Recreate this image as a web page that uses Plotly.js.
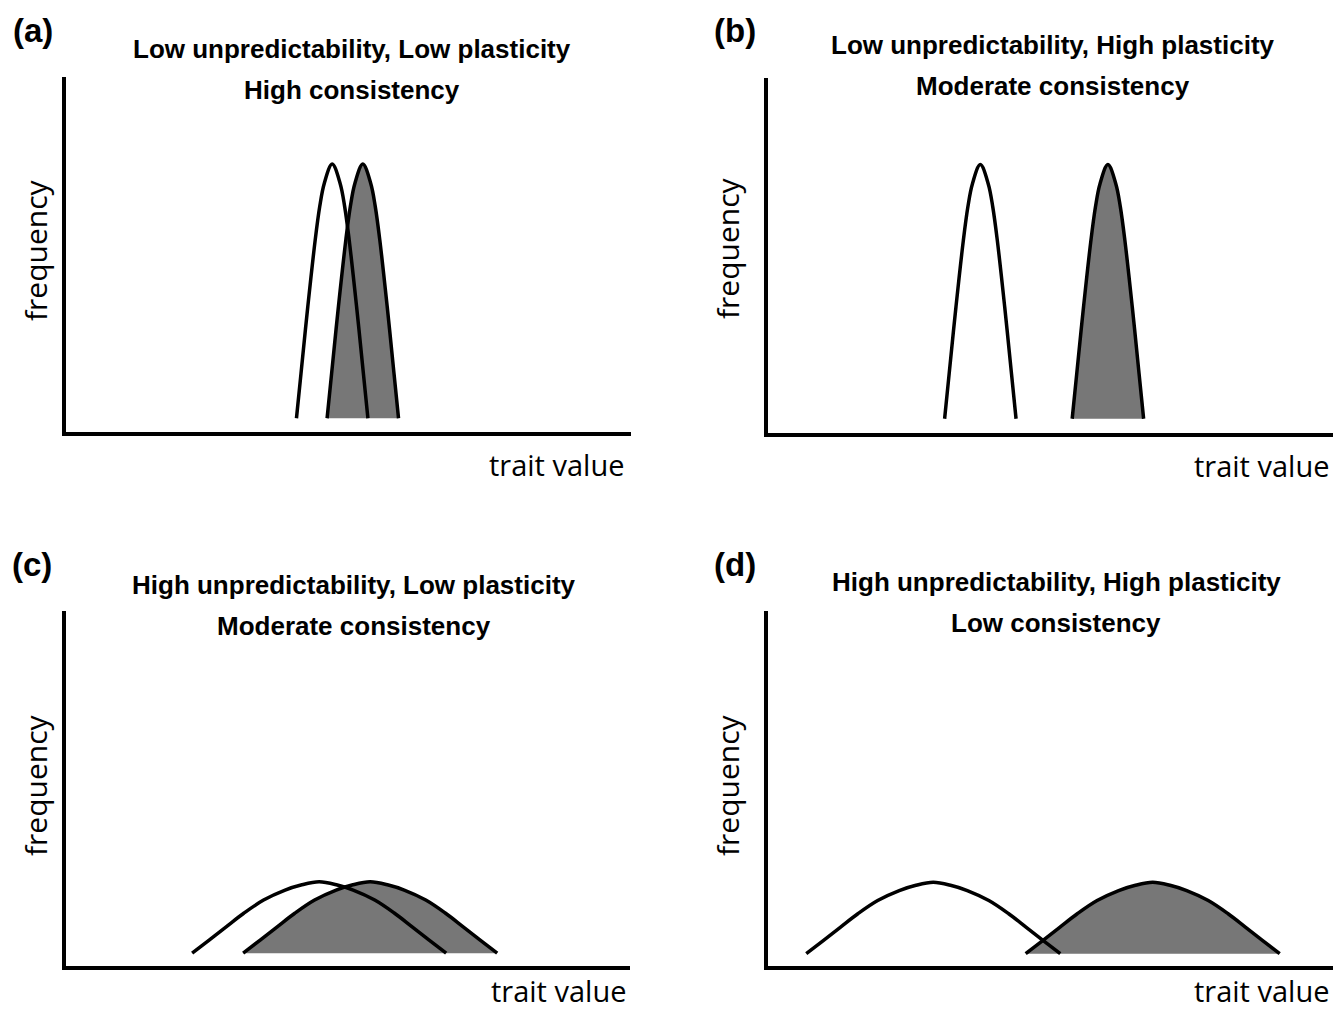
<!DOCTYPE html>
<html>
<head>
<meta charset="utf-8">
<script src="https://cdn.plot.ly/plotly-3.0.1.min.js"></script>
<style>html,body{margin:0;padding:0;background:#fff;}</style>
</head>
<body>
<div id="chart" style="width:1341px;height:1012px;"></div>
<script>
// ---- text ----
const panelLabels = ["(a)", "(b)", "(c)", "(d)"];
const titleLine1 = [
  "Low unpredictability, Low plasticity",
  "Low unpredictability, High plasticity",
  "High unpredictability, Low plasticity",
  "High unpredictability, High plasticity"
];
const titleLine2 = [
  "High consistency",
  "Moderate consistency",
  "Moderate consistency",
  "Low consistency"
];
const xLabel = "trait value";
const yLabel = "frequency";

// ---- curve data (trait value, frequency) ----
const narrowY = [0.044, 0.170, 0.357, 0.543, 0.637, 0.702, 0.756, 0.702, 0.637, 0.543, 0.357, 0.170, 0.044];
const aWhiteX = [4.10, 4.18, 4.30, 4.43, 4.51, 4.59, 4.73, 4.87, 4.95, 5.03, 5.16, 5.28, 5.36];
const aGrayX  = [4.64, 4.72, 4.84, 4.97, 5.05, 5.13, 5.27, 5.41, 5.49, 5.57, 5.70, 5.82, 5.90];
const bWhiteX = [3.15, 3.23, 3.35, 3.48, 3.56, 3.64, 3.78, 3.92, 4.00, 4.08, 4.21, 4.33, 4.41];
const bGrayX  = [5.40, 5.48, 5.60, 5.73, 5.81, 5.89, 6.03, 6.17, 6.25, 6.33, 6.46, 6.58, 6.66];

const wideY   = [0.040, 0.077, 0.114, 0.152, 0.189, 0.217, 0.231, 0.240, 0.231, 0.217, 0.189, 0.152, 0.114, 0.077, 0.040];
const cWhiteX = [2.26, 2.56, 2.86, 3.17, 3.52, 3.90, 4.18, 4.50, 4.82, 5.10, 5.48, 5.83, 6.14, 6.44, 6.74];
const cGrayX  = [3.16, 3.46, 3.76, 4.07, 4.42, 4.80, 5.08, 5.40, 5.72, 6.00, 6.38, 6.73, 7.04, 7.34, 7.64];
const dWhiteX = [0.71, 1.01, 1.31, 1.62, 1.97, 2.35, 2.63, 2.95, 3.27, 3.55, 3.93, 4.28, 4.59, 4.89, 5.19];
const dGrayX  = [4.58, 4.88, 5.18, 5.49, 5.84, 6.22, 6.50, 6.82, 7.14, 7.42, 7.80, 8.15, 8.46, 8.76, 9.06];

const panelCurves = [
  {white: aWhiteX, gray: aGrayX, y: narrowY},
  {white: bWhiteX, gray: bGrayX, y: narrowY},
  {white: cWhiteX, gray: cGrayX, y: wideY},
  {white: dWhiteX, gray: dGrayX, y: wideY}
];

// ---- layout geometry (pixels) ----
const W = 1341, H = 1012;
const PXX = 56.7, PXY = 357;   // pixels per data unit
const LW = 4;
const geom = [
  {axisX: 64,  axisY: 434,   top: 77,  right: 631,
   lab: [33, 30],  t1: [352, 49],  t2: [352, 90],  fy: [35, 250],  tv: [625, 464]},
  {axisX: 766, axisY: 434.5, top: 78,  right: 1333,
   lab: [735, 30], t1: [1053, 45], t2: [1053, 86], fy: [727, 248], tv: [1330, 465]},
  {axisX: 64,  axisY: 967.5, top: 611, right: 630,
   lab: [32, 564], t1: [354, 585], t2: [354, 626], fy: [35, 785],  tv: [627, 990.5]},
  {axisX: 766, axisY: 968,   top: 611, right: 1333,
   lab: [735, 564], t1: [1056, 582], t2: [1056, 623], fy: [727, 785], tv: [1330, 990.5]}
];

const GRAY = "#777777";
const BOLD = "Liberation Sans, Arial, sans-serif";
const REG = "Open Sans, Noto Sans, sans-serif";

const traces = [];
const layout = {
  width: W, height: H,
  margin: {l: 0, r: 0, t: 0, b: 0},
  paper_bgcolor: "#ffffff", plot_bgcolor: "rgba(0,0,0,0)",
  showlegend: false,
  annotations: []
};

const px2x = p => p / W;
const px2y = p => 1 - p / H;

geom.forEach((g, i) => {
  const n = i + 1;
  const xa = n === 1 ? "xaxis" : "xaxis" + n;
  const ya = n === 1 ? "yaxis" : "yaxis" + n;
  const xr = n === 1 ? "x" : "x" + n;
  const yr = n === 1 ? "y" : "y" + n;
  const left = g.axisX + LW / 2, bottom = g.axisY - LW / 2;
  layout[xa] = {
    domain: [px2x(left), px2x(g.right)],
    range: [(left - g.axisX) / PXX, (g.right - g.axisX) / PXX],
    anchor: yr, showline: true, linewidth: LW, linecolor: "#000",
    showgrid: false, zeroline: false, showticklabels: false, ticks: "", fixedrange: true
  };
  layout[ya] = {
    domain: [px2y(bottom), px2y(g.top)],
    range: [(g.axisY - bottom) / PXY, (g.axisY - g.top) / PXY],
    anchor: xr, showline: true, linewidth: LW, linecolor: "#000",
    showgrid: false, zeroline: false, showticklabels: false, ticks: "", fixedrange: true
  };
  const c = panelCurves[i];
  traces.push({
    x: c.gray, y: c.y, xaxis: xr, yaxis: yr, type: "scatter", mode: "lines",
    fill: "toself", fillcolor: GRAY, line: {width: 0, shape: "spline", smoothing: 1},
    hoverinfo: "skip"
  });
  traces.push({
    x: c.white, y: c.y, xaxis: xr, yaxis: yr, type: "scatter", mode: "lines",
    line: {color: "#000", width: 3.5, shape: "spline", smoothing: 1}, hoverinfo: "skip"
  });
  traces.push({
    x: c.gray, y: c.y, xaxis: xr, yaxis: yr, type: "scatter", mode: "lines",
    line: {color: "#000", width: 3.5, shape: "spline", smoothing: 1}, hoverinfo: "skip"
  });

  const ann = (text, pos, font, extra) => Object.assign({
    text: text, xref: "paper", yref: "paper", x: px2x(pos[0]), y: px2y(pos[1]),
    xanchor: "center", yanchor: "middle", showarrow: false, font: font
  }, extra || {});
  layout.annotations.push(ann("<b>" + panelLabels[i] + "</b>", g.lab, {family: BOLD, size: 33, color: "#000"}));
  layout.annotations.push(ann("<b>" + titleLine1[i] + "</b>", g.t1, {family: BOLD, size: 26, color: "#000"}));
  layout.annotations.push(ann("<b>" + titleLine2[i] + "</b>", g.t2, {family: BOLD, size: 26, color: "#000"}));
  layout.annotations.push(ann(yLabel, g.fy, {family: REG, size: 30, color: "#000"}, {textangle: -90}));
  layout.annotations.push(ann(xLabel, g.tv, {family: REG, size: 29, color: "#000"}, {xanchor: "right", borderpad: 0}));
});

Plotly.newPlot("chart", traces, layout, {staticPlot: true, displayModeBar: false});
</script>
</body>
</html>
